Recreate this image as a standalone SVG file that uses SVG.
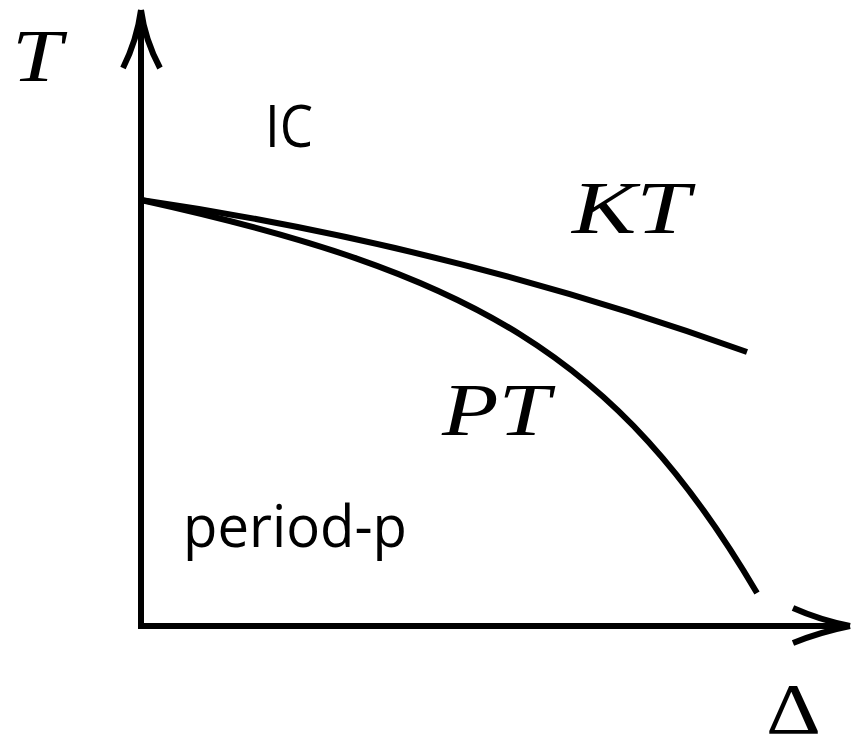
<svg xmlns="http://www.w3.org/2000/svg" width="856" height="739" viewBox="0 0 856 739">
<style>
.ax{fill:none;stroke:#000;stroke-width:6;stroke-linecap:butt}
.cv{fill:none;stroke:#000;stroke-width:6}
.m{font-family:"Liberation Serif",serif;font-style:italic;fill:#000}
.s{font-family:"Open Sans","Liberation Sans",sans-serif;fill:#000}
</style>
<rect width="856" height="739" fill="#fff"/>
<g id="connectors">
<path class="ax" d="M141,629 V10"/>
<path class="ax" d="M141,10 Q137,40 123,68 M141,10 Q145,40 160,68"/>
<path class="ax" d="M138,626 H850"/>
<path class="ax" d="M850,626 Q820,620 793,608 M850,626 Q820,632 793,643"/>
<path class="cv" d="M141,200 C360,232 560,285 747,352"/>
<path class="cv" d="M141,200 C471,272.6 617,355 757,593"/>
</g>
<g id="label-T"><text class="m" x="12" y="81" font-size="73" textLength="50" lengthAdjust="spacingAndGlyphs">T</text></g>
<g id="label-IC"><text class="s" x="265" y="147" font-size="58" textLength="48" lengthAdjust="spacingAndGlyphs">IC</text></g>
<g id="label-KT"><text class="m" x="572" y="233" font-size="73" textLength="118" lengthAdjust="spacingAndGlyphs">KT</text></g>
<g id="label-PT"><text class="m" x="442" y="435" font-size="73" textLength="108" lengthAdjust="spacingAndGlyphs">PT</text></g>
<g id="label-period"><text class="s" x="183" y="547" font-size="58" textLength="224" lengthAdjust="spacingAndGlyphs">period-p</text></g>
<g id="label-Delta"><text x="766" y="733" font-size="72" font-family="Liberation Serif,serif" textLength="55" lengthAdjust="spacingAndGlyphs">Δ</text></g>
</svg>
